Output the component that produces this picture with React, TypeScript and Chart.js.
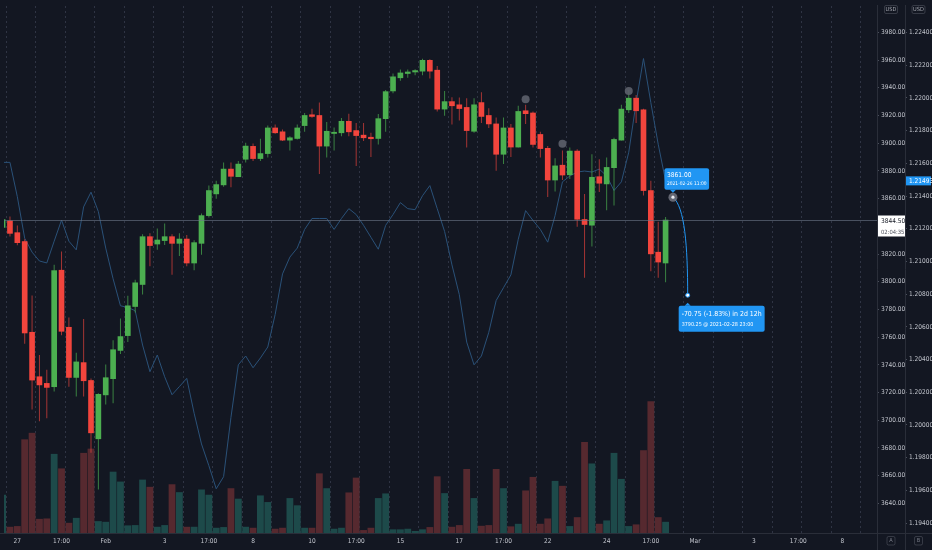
import React, { useEffect, useRef } from 'react';
import { Chart, registerables } from 'chart.js';

Chart.register(...registerables);

// ---------- data ----------
const opens = [3839.2,3843.9,3835.4,3829.0,3763.5,3731.4,3726.6,3724.2,3808.3,3767.1,
3730.9,3741.6,3728.7,3686.6,3718.3,3730.0,3750.4,3761.1,3782.1,3798.0,
3832.5,3827.2,3829.7,3832.5,3827.7,3830.8,3813.5,3827.7,3847.7,3863.4,
3869.9,3881.3,3875.8,3888.4,3897.7,3888.9,3892.5,3911.0,3908.2,3902.2,
3903.4,3912.7,3920.5,3920.0,3897.9,3907.0,3907.5,3915.8,3909.1,3905.8,
3904.3,3903.4,3917.7,3937.7,3947.2,3950.3,3951.4,3952.0,3959.8,3952.7,
3924.6,3930.0,3927.7,3925.8,3908.6,3929.3,3920.0,3913.9,3892.0,3911.0,
3897.2,3923.4,3921.8,3906.3,3896.3,3873.4,3884.1,3877.2,3894.3,3844.9,
3840.8,3875.8,3870.6,3882.3,3902.2,3924.1,3932.5,3924.1,3865.8,3821.3,
3813.5];
const highs = [3847.0,3847.0,3840.6,3830.6,3790.1,3747.1,3736.4,3812.3,3821.8,3774.2,
3748.7,3773.0,3730.2,3719.5,3740.2,3757.8,3773.5,3789.9,3801.5,3834.2,
3834.9,3838.5,3842.0,3834.2,3834.9,3833.7,3829.9,3849.2,3869.4,3872.9,
3886.1,3886.1,3887.2,3900.3,3899.8,3903.2,3912.7,3913.4,3909.8,3905.0,
3913.4,3921.8,3924.8,3929.3,3915.3,3911.3,3918.2,3921.3,3914.6,3914.6,
3907.5,3921.0,3938.4,3950.3,3953.2,3953.2,3953.4,3961.0,3960.5,3955.7,
3937.7,3933.2,3932.9,3932.5,3932.5,3936.7,3925.3,3918.6,3918.6,3913.9,
3927.0,3927.7,3922.9,3908.2,3897.9,3889.1,3894.8,3896.8,3895.6,3863.4,
3892.0,3888.4,3889.6,3903.9,3927.7,3938.4,3934.8,3924.8,3872.9,3843.2,
3846.8];
const lows = [3836.3,3832.7,3826.3,3755.2,3707.8,3699.3,3701.4,3720.7,3761.4,3724.2,
3717.1,3717.1,3676.6,3650.0,3711.4,3712.3,3747.8,3756.4,3777.8,3790.8,
3811.1,3823.0,3826.5,3805.1,3818.5,3811.1,3808.3,3819.4,3846.3,3859.9,
3868.6,3868.2,3875.6,3886.1,3887.2,3887.2,3889.6,3906.8,3901.5,3894.8,
3902.7,3908.2,3918.4,3877.7,3889.6,3894.8,3905.0,3905.0,3883.6,3901.5,
3890.1,3899.1,3908.2,3936.0,3945.0,3947.2,3949.1,3949.1,3946.7,3922.9,
3919.8,3913.4,3916.3,3896.8,3907.5,3914.6,3911.0,3880.1,3884.9,3890.1,
3896.8,3913.9,3896.8,3889.6,3861.1,3865.1,3873.4,3874.1,3839.7,3802.8,
3825.4,3864.7,3851.5,3855.1,3902.0,3921.8,3914.6,3862.2,3807.5,3802.8,
3799.7];
const closes = [3844.9,3834.9,3828.2,3763.0,3729.0,3725.5,3723.7,3808.0,3764.2,3730.9,
3742.1,3728.5,3690.9,3718.7,3730.7,3750.9,3760.4,3782.6,3799.2,3832.5,
3826.1,3830.1,3832.5,3827.7,3830.8,3813.5,3828.2,3847.7,3865.8,3870.1,
3881.3,3876.1,3884.9,3897.9,3888.9,3892.5,3911.0,3907.5,3902.2,3903.9,
3911.0,3920.0,3919.3,3897.9,3908.6,3907.9,3915.8,3908.2,3905.5,3903.9,
3903.2,3917.7,3937.2,3947.9,3950.7,3951.4,3952.4,3959.8,3952.0,3924.6,
3930.0,3927.0,3925.0,3909.1,3927.7,3919.3,3913.9,3892.0,3911.0,3897.2,
3922.9,3921.3,3899.1,3896.1,3873.4,3883.6,3877.0,3894.3,3845.1,3841.3,
3875.4,3871.1,3882.5,3902.7,3924.6,3932.5,3923.4,3865.8,3820.1,3814.2,
3844.5];
const volumes = [3870,630,700,9470,10130,1430,1470,8000,6530,1030,
1530,8100,8530,1200,1130,6200,5200,770,800,5400,
4670,630,800,4930,4130,630,630,4400,3870,530,
600,4530,3470,630,530,3800,3130,430,530,3530,
2800,530,530,6030,4530,430,530,4100,5600,300,
530,3530,4000,370,370,430,200,370,600,5730,
4030,630,800,6470,3530,730,800,6470,4530,670,
930,4300,5670,930,1470,5270,4770,700,1600,9200,
7030,930,1270,8100,5470,700,870,8370,13330,1600,
1130];
const eurusd = [1.21606,1.21606,1.21396,1.21142,1.21057,1.21003,1.20991,1.21124,1.21253,1.21124,
1.21071,1.21334,1.21424,1.21305,1.21082,1.20894,1.20729,1.20719,1.20699,1.20489,
1.20326,1.20428,1.20295,1.20185,1.20235,1.20285,1.20072,1.19884,1.19751,1.19610,
1.19684,1.20047,1.20368,1.20422,1.20350,1.20410,1.20477,1.20676,1.20924,1.21027,
1.21082,1.21196,1.21263,1.21263,1.21263,1.21196,1.21263,1.21323,1.21287,1.21221,
1.21148,1.21075,1.21221,1.21287,1.21360,1.21323,1.21317,1.21402,1.21464,1.21323,
1.21184,1.20979,1.20797,1.20507,1.20368,1.20422,1.20567,1.20761,1.20840,1.20918,
1.21136,1.21311,1.21251,1.21196,1.21118,1.21281,1.21487,1.21523,1.21547,1.21553,
1.21547,1.21565,1.21523,1.21434,1.21487,1.21668,1.21971,1.22241,1.21971,1.21717,
1.21493];

const xTickIdx = [2, 8, 14, 22, 28, 34, 42, 48, 54, 62, 68, 74, 82, 88, 94, 102, 108, 114];
const xTickLabels = ['27', '17:00', 'Feb', '3', '17:00', '8', '10', '17:00', '15', '17', '17:00', '22', '24', '17:00', 'Mar', '3', '17:00', '8'];
const priceTicks = [3640, 3660, 3680, 3700, 3720, 3740, 3760, 3780, 3800, 3820, 3840, 3860, 3880, 3900, 3920, 3940, 3960, 3980];
const fxTicks = [1.194, 1.196, 1.198, 1.2, 1.202, 1.204, 1.206, 1.208, 1.21, 1.212, 1.214, 1.216, 1.218, 1.22, 1.222, 1.224];

const eventIdx = [71, 76, 85];
const eventPrices = [3931.7, 3899.6, 3937.7];

const forecastIdx = [91, 93];
const forecastPrices = [3861.0, 3790.25];
const forecastStartText = ['3861.00', '2021-02-26 11:00'];
const forecastEndText = ['-70.75 (-1.83%) in 2d 12h', '3790.25 @ 2021-02-28 23:00'];
const countdownText = '02:04:35';
const currencyLabels = ['USD', 'USD'];
const scaleLetters = ['A', 'B'];

// ---------- style ----------
const BG = '#131722';
const UP = '#4caf50';
const DOWN = '#f2453d';
const UP_WICK = 'rgba(76,175,80,0.7)';
const DOWN_WICK = 'rgba(242,69,61,0.65)';
const VOL_UP = '#1d4a4a';
const VOL_DOWN = '#56292f';
const FX_LINE = '#2a5178';
const BLUE = '#2196f3';
const AXIS_LINE = '#2a2e39';
const GRID = 'rgba(60,66,82,0.7)';
const TXT = '#c3c6ce';
const FONT = "'Liberation Sans Narrow', 'DejaVu Sans Condensed', 'Roboto Condensed', Roboto, sans-serif";
const X_MIN = 0.19;
const X_MAX = 118.7;

function rr(ctx: CanvasRenderingContext2D, x: number, y: number, w: number, h: number, r: number) {
  ctx.beginPath();
  ctx.moveTo(x + r, y);
  ctx.arcTo(x + w, y, x + w, y + h, r);
  ctx.arcTo(x + w, y + h, x, y + h, r);
  ctx.arcTo(x, y + h, x, y, r);
  ctx.arcTo(x, y, x + w, y, r);
  ctx.closePath();
}

const decor = {
  id: 'decor',
  beforeDraw(chart: any) {
    const { ctx, width, height } = chart;
    ctx.save();
    ctx.fillStyle = BG;
    ctx.fillRect(0, 0, width, height);
    ctx.restore();
  },
  afterDatasetsDraw(chart: any) {
    const { ctx, chartArea: ca, scales } = chart;
    const xs = scales.x, yA = scales.yA;
    const last = closes[closes.length - 1];
    const py = Math.round(yA.getPixelForValue(last)) + 0.5;
    ctx.save();
    ctx.beginPath();
    ctx.rect(ca.left, ca.top, ca.right - ca.left, ca.bottom - ca.top);
    ctx.clip();
    ctx.strokeStyle = 'rgba(110,120,138,0.6)';
    ctx.lineWidth = 1;
    ctx.beginPath();
    ctx.moveTo(ca.left, py);
    ctx.lineTo(ca.right, py);
    ctx.stroke();

    const sx = xs.getPixelForValue(forecastIdx[0]);
    const sy = yA.getPixelForValue(forecastPrices[0]);
    const ex = xs.getPixelForValue(forecastIdx[1]);
    const ey = yA.getPixelForValue(forecastPrices[1]);
    ctx.strokeStyle = BLUE;
    ctx.lineWidth = 1;
    ctx.beginPath();
    ctx.moveTo(sx, sy);
    ctx.bezierCurveTo(sx + 0.8 * (ex - sx), sy + 0.1 * (ey - sy), ex, sy + 0.5 * (ey - sy), ex, ey);
    ctx.stroke();

    ctx.fillStyle = 'rgba(120,123,134,0.8)';
    ctx.beginPath(); ctx.arc(sx, sy, 4.5, 0, Math.PI * 2); ctx.fill();
    ctx.fillStyle = '#e8eaf0';
    ctx.beginPath(); ctx.arc(sx, sy, 1.6, 0, Math.PI * 2); ctx.fill();

    ctx.fillStyle = '#ffffff';
    ctx.strokeStyle = BLUE;
    ctx.beginPath(); ctx.arc(ex, ey, 2, 0, Math.PI * 2); ctx.fill(); ctx.stroke();

    ctx.textAlign = 'left';
    ctx.textBaseline = 'middle';
    // box 1
    ctx.font = `6.6px ${FONT}`;
    const w1a = ctx.measureText(forecastStartText[0]).width;
    ctx.font = `4.9px ${FONT}`;
    const w1b = ctx.measureText(forecastStartText[1]).width;
    const b1w = Math.max(w1a, w1b) + 5;
    const b1h = 21.5;
    const b1x = sx - 8.5;
    const b1y = sy - 29;
    ctx.fillStyle = BLUE;
    rr(ctx, b1x, b1y, b1w, b1h, 2); ctx.fill();
    ctx.beginPath();
    ctx.moveTo(sx - 3, b1y + b1h); ctx.lineTo(sx + 3, b1y + b1h); ctx.lineTo(sx, b1y + b1h + 3); ctx.closePath(); ctx.fill();
    ctx.fillStyle = '#ffffff';
    ctx.font = `6.6px ${FONT}`;
    ctx.fillText(forecastStartText[0], b1x + 2.5, b1y + 7.5);
    ctx.font = `4.9px ${FONT}`;
    ctx.fillText(forecastStartText[1], b1x + 2.5, b1y + 16);

    // box 2
    ctx.font = `6.9px ${FONT}`;
    const w2a = ctx.measureText(forecastEndText[0]).width;
    ctx.font = `5.4px ${FONT}`;
    const w2b = ctx.measureText(forecastEndText[1]).width;
    const b2w = Math.max(w2a, w2b) + 6;
    const b2h = 26;
    const b2x = ex - 9;
    const b2y = ey + 10.5;
    ctx.fillStyle = BLUE;
    rr(ctx, b2x, b2y, b2w, b2h, 2); ctx.fill();
    ctx.beginPath();
    ctx.moveTo(ex - 3, b2y); ctx.lineTo(ex + 3, b2y); ctx.lineTo(ex, b2y - 3); ctx.closePath(); ctx.fill();
    ctx.fillStyle = '#ffffff';
    ctx.font = `6.9px ${FONT}`;
    ctx.fillText(forecastEndText[0], b2x + 3, b2y + 8.5);
    ctx.font = `5.4px ${FONT}`;
    ctx.fillText(forecastEndText[1], b2x + 3, b2y + 19);
    ctx.restore();
  },
  afterDraw(chart: any) {
    const { ctx, chartArea: ca, scales, width, height } = chart;
    const xs = scales.x, yA = scales.yA, yB = scales.yB;
    ctx.save();
    ctx.strokeStyle = AXIS_LINE;
    ctx.lineWidth = 1;
    const by = Math.round(xs.top) + 0.5;
    ctx.beginPath(); ctx.moveTo(0, by); ctx.lineTo(width, by); ctx.stroke();
    [yA.left, yB.left].forEach((lx: number) => {
      const vx = Math.round(lx) + 0.5;
      ctx.beginPath(); ctx.moveTo(vx, ca.bottom); ctx.lineTo(vx, height); ctx.stroke();
    });

    // current price label
    const last = closes[closes.length - 1];
    const py = Math.round(yA.getPixelForValue(last)) + 0.5;
    ctx.fillStyle = '#ffffff';
    ctx.fillRect(yA.left + 1, py - 5, yA.right - yA.left - 1, 21);
    ctx.textAlign = 'left';
    ctx.textBaseline = 'middle';
    ctx.fillStyle = '#131722';
    ctx.font = `6.5px ${FONT}`;
    ctx.fillText(last.toFixed(2), yA.left + 4, py + 0.5);
    ctx.fillStyle = '#50535e';
    ctx.font = `5.8px ${FONT}`;
    ctx.fillText(countdownText, yA.left + 4, py + 11.5);

    // fx label
    const fxLast = eurusd[eurusd.length - 1];
    const fy = yB.getPixelForValue(fxLast);
    ctx.fillStyle = BLUE;
    ctx.fillRect(yB.left + 1, fy - 4.5, yB.right - yB.left - 2, 9);
    ctx.fillStyle = '#ffffff';
    ctx.font = `6.5px ${FONT}`;
    ctx.fillText(fxLast.toFixed(5), yB.left + 4, fy + 0.3);

    // USD labels and A/B letters
    ctx.textAlign = 'center';
    [yA, yB].forEach((s: any, i: number) => {
      const cx = (s.left + s.right) / 2;
      ctx.strokeStyle = 'rgba(120,123,134,0.35)';
      rr(ctx, cx - 6.5, 5.5, 13, 8, 1.5); ctx.stroke();
      ctx.fillStyle = '#a3a6af';
      ctx.font = `5.6px ${FONT}`;
      ctx.fillText(currencyLabels[i], cx, 9.7);
      rr(ctx, cx - 4, 536.5, 8, 8.5, 1.5); ctx.stroke();
      ctx.fillStyle = '#787b86';
      ctx.fillText(scaleLetters[i], cx, 541);
    });
    ctx.restore();
  },
};

export default function App() {
  const ref = useRef<HTMLCanvasElement>(null);
  useEffect(() => {
    document.body.style.margin = '0';
    document.body.style.background = BG;
    const idx = opens.map((_, i) => i);
    const up = idx.map((i) => closes[i] >= opens[i]);
    const gridIdx = Array.from({ length: 30 }, (_, k) => 0.5 + 4 * k);
    const chart = new Chart(ref.current as HTMLCanvasElement, {
      type: 'bar',
      data: {
        datasets: [
          {
            type: 'scatter',
            data: eventIdx.map((v, i) => ({ x: v, y: eventPrices[i] })),
            xAxisID: 'x', yAxisID: 'yA',
            pointRadius: 4, pointBackgroundColor: 'rgba(93,96,107,0.9)', pointBorderWidth: 0,
            order: 0,
          } as any,
          {
            type: 'bar',
            data: idx.map((i) => ({ x: i, y: [Math.min(opens[i], closes[i]), Math.max(opens[i], closes[i])] })),
            backgroundColor: up.map((u) => (u ? UP : DOWN)),
            barThickness: 5, grouped: false, minBarLength: 1, borderWidth: 0,
            xAxisID: 'x', yAxisID: 'yA', order: 1,
          } as any,
          {
            type: 'bar',
            data: idx.map((i) => ({ x: i, y: [lows[i], highs[i]] })),
            backgroundColor: up.map((u) => (u ? UP_WICK : DOWN_WICK)),
            barThickness: 1, grouped: false, borderWidth: 0, inflateAmount: 0,
            xAxisID: 'x', yAxisID: 'yA', order: 2,
          } as any,
          {
            type: 'line',
            data: idx.map((i) => ({ x: i, y: eurusd[i] })),
            borderColor: FX_LINE, borderWidth: 1, pointRadius: 0, tension: 0, fill: false,
            xAxisID: 'x', yAxisID: 'yB', order: 3,
          } as any,
          {
            type: 'bar',
            data: idx.map((i) => ({ x: i, y: volumes[i] })),
            backgroundColor: up.map((u) => (u ? VOL_UP : VOL_DOWN)),
            barThickness: 6.8, grouped: false, borderWidth: 0, inflateAmount: 0,
            xAxisID: 'x', yAxisID: 'yV', order: 4,
          } as any,
        ],
      },
      options: {
        responsive: true,
        maintainAspectRatio: false,
        animation: false,
        events: [],
        layout: { padding: 0 },
        plugins: { legend: { display: false }, tooltip: { enabled: false } },
        scales: {
          x: {
            type: 'linear', min: X_MIN, max: X_MAX, offset: false, position: 'bottom',
            grid: { display: false, offset: false, drawTicks: false },
            border: { display: true, color: AXIS_LINE },
            afterBuildTicks: (s: any) => { s.ticks = xTickIdx.map((v) => ({ value: v })); },
            afterFit: (s: any) => { s.height = 17; },
            ticks: {
              autoSkip: false, maxRotation: 0, padding: 4, color: TXT,
              font: { family: FONT, size: 6.5 },
              callback: (v: any) => { const k = xTickIdx.indexOf(Number(v)); return k >= 0 ? xTickLabels[k] : ''; },
            },
          },
          xg: {
            type: 'linear', min: X_MIN, max: X_MAX, offset: false, position: 'top',
            grid: { color: GRID, drawTicks: false, offset: false, lineWidth: 1 },
            border: { display: false, dash: [2, 3] },
            ticks: { display: false },
            afterBuildTicks: (s: any) => { s.ticks = gridIdx.map((v) => ({ value: v })); },
            afterFit: (s: any) => { s.height = 0; },
          },
          yA: {
            type: 'linear', position: 'right', weight: 0, min: 3618.6, max: 3999.1, beginAtZero: false,
            grid: { display: true, drawOnChartArea: false, drawTicks: true, tickLength: 2, tickColor: '#4a4f5c' },
            border: { display: true, color: AXIS_LINE },
            afterBuildTicks: (s: any) => { s.ticks = priceTicks.map((v) => ({ value: v })); },
            afterFit: (s: any) => { s.width = 28; },
            ticks: { padding: 2, color: TXT, font: { family: FONT, size: 6.5 }, callback: (v: any) => Number(v).toFixed(2) },
          },
          yB: {
            type: 'linear', position: 'right', weight: 1, min: 1.193395, max: 1.22563, beginAtZero: false,
            grid: { display: true, drawOnChartArea: false, drawTicks: true, tickLength: 2, tickColor: '#4a4f5c' },
            border: { display: true, color: AXIS_LINE },
            afterBuildTicks: (s: any) => { s.ticks = fxTicks.map((v) => ({ value: v })); },
            afterFit: (s: any) => { s.width = 27; },
            ticks: { padding: 2, color: TXT, font: { family: FONT, size: 6.5 }, callback: (v: any) => Number(v).toFixed(5) },
          },
          yV: { type: 'linear', display: false, min: 0, max: 53300 },
        },
      } as any,
      plugins: [decor],
    });
    return () => chart.destroy();
  }, []);
  return (
    <div style={{ width: 932, height: 550, position: 'relative', background: BG }}>
      <canvas ref={ref} />
    </div>
  );
}
